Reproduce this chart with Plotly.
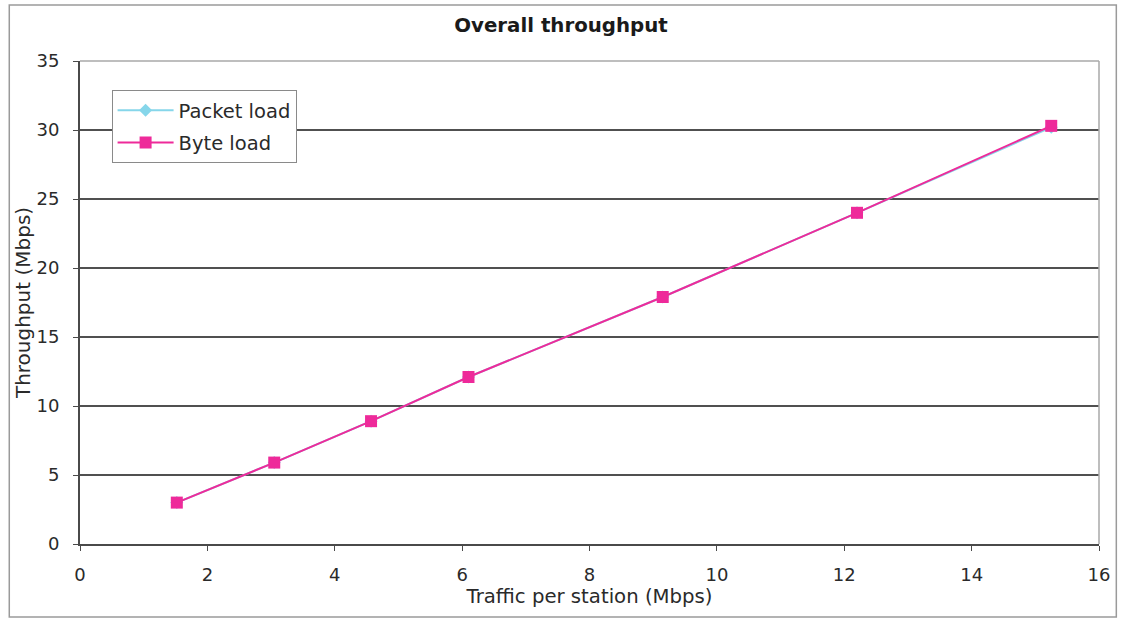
import plotly.graph_objects as go

# Traffic offered per station (Mbps) and the measured overall throughput (Mbps)
traffic_per_station = [1.52, 3.05, 4.57, 6.1, 9.15, 12.2, 15.25]
packet_load_throughput = [3.0, 5.9, 8.9, 12.1, 17.9, 24.0, 30.2]
byte_load_throughput = [3.0, 5.9, 8.9, 12.1, 17.9, 24.0, 30.3]

x_ticks = [0, 2, 4, 6, 8, 10, 12, 14, 16]
y_ticks = [0, 5, 10, 15, 20, 25, 30, 35]

FONT = "DejaVu Sans"
TEXT = "#2a2a2a"

fig = go.Figure()
fig.add_trace(go.Scatter(
    x=traffic_per_station, y=packet_load_throughput, name="Packet load",
    mode="lines+markers", legendgroup="packet",
    line=dict(color="#86d6ea", width=2),
    marker=dict(symbol="diamond", size=10, color="#86d6ea"),
))
fig.add_trace(go.Scatter(
    x=traffic_per_station, y=byte_load_throughput, name="Byte load",
    mode="lines+markers", legendgroup="byte",
    line=dict(color="#ee2a9a", width=2),
    marker=dict(symbol="square", size=12, color="#ee2a9a"),
))

# Outer chart frame
fig.add_shape(type="rect", xref="paper", yref="paper",
              x0=-0.0694, x1=1.017, y0=-0.151, y1=1.116,
              line=dict(color="#9a9a9a", width=1.5), layer="below")
# Light frame on the top and right of the plot area
fig.add_shape(type="line", xref="paper", yref="paper", x0=0, x1=1, y0=1, y1=1,
              line=dict(color="#a8a8a8", width=1.5))
fig.add_shape(type="line", xref="paper", yref="paper", x0=1, x1=1, y0=0, y1=1,
              line=dict(color="#a8a8a8", width=1.5))

fig.update_layout(
    width=1122, height=618,
    margin=dict(l=80, r=19, t=61, b=74),
    paper_bgcolor="white", plot_bgcolor="white",
    font=dict(family=FONT, size=18, color=TEXT),
    title=dict(text="<b>Overall throughput</b>", x=0.5, xanchor="center",
               y=0.96, yanchor="middle", font=dict(family=FONT, size=19.8, color="#1a1a1a")),
    showlegend=True,
    legend=dict(x=0.031, y=0.940, xanchor="left", yanchor="top",
                bgcolor="white", bordercolor="#8a8a8a", borderwidth=1,
                font=dict(family=FONT, size=19.5, color=TEXT),
                tracegroupgap=4, itemwidth=56),
    xaxis=dict(range=[0, 16], tickvals=x_ticks, ticktext=[str(v) for v in x_ticks],
               showgrid=False, zeroline=False,
               showline=True, linecolor="#4a4a4a", linewidth=2,
               ticks="outside", ticklen=5, tickcolor="#4a4a4a",
               ticklabelstandoff=8,
               tickfont=dict(family=FONT, size=18, color=TEXT),
               title=dict(text="Traffic per station (Mbps)", standoff=2,
                          font=dict(family=FONT, size=19.7, color=TEXT))),
    yaxis=dict(range=[0, 35], tickvals=y_ticks, ticktext=[str(v) for v in y_ticks],
               showgrid=True, gridcolor="#505050", gridwidth=1.5, zeroline=False,
               showline=True, linecolor="#4a4a4a", linewidth=2,
               ticks="outside", ticklen=5, tickcolor="#4a4a4a",
               ticklabelstandoff=10,
               tickfont=dict(family=FONT, size=18, color=TEXT),
               title=dict(text="Throughput (Mbps)", standoff=0,
                          font=dict(family=FONT, size=20, color=TEXT))),
)

fig.write_html("out.html")
